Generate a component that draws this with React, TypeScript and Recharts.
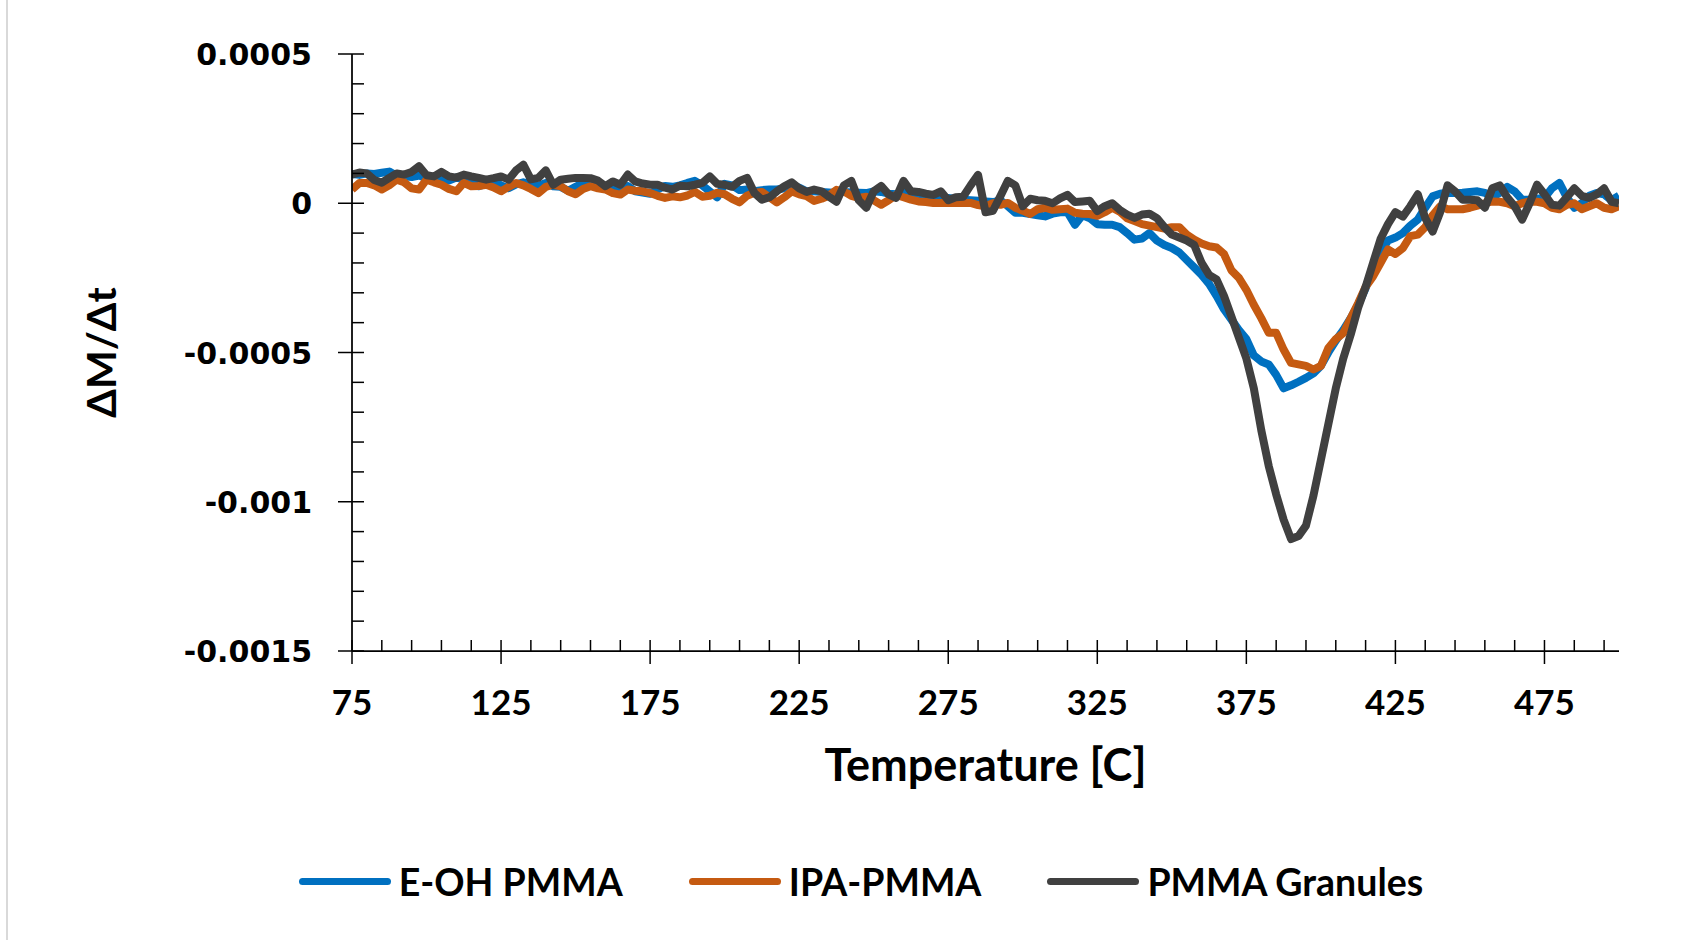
import React from 'react';
import { LineChart, Line, XAxis, YAxis, Legend } from 'recharts';

// temperature grid [C]
const temps = [
  75, 77.5, 80, 82.5, 85, 87.5, 90, 92.5, 95, 97.5,
  100, 102.5, 105, 107.5, 110, 112.5, 115, 117.5, 120, 122.5,
  125, 127.5, 130, 132.5, 135, 137.5, 140, 142.5, 145, 147.5,
  150, 152.5, 155, 157.5, 160, 162.5, 165, 167.5, 170, 172.5,
  175, 177.5, 180, 182.5, 185, 187.5, 190, 192.5, 195, 197.5,
  200, 202.5, 205, 207.5, 210, 212.5, 215, 217.5, 220, 222.5,
  225, 227.5, 230, 232.5, 235, 237.5, 240, 242.5, 245, 247.5,
  250, 252.5, 255, 257.5, 260, 262.5, 265, 267.5, 270, 272.5,
  275, 277.5, 280, 282.5, 285, 287.5, 290, 292.5, 295, 297.5,
  300, 302.5, 305, 307.5, 310, 312.5, 315, 317.5, 320, 322.5,
  325, 327.5, 330, 332.5, 335, 337.5, 340, 342.5, 345, 347.5,
  350, 352.5, 355, 357.5, 360, 362.5, 365, 367.5, 370, 372.5,
  375, 377.5, 380, 382.5, 385, 387.5, 390, 392.5, 395, 397.5,
  400, 402.5, 405, 407.5, 410, 412.5, 415, 417.5, 420, 422.5,
  425, 427.5, 430, 432.5, 435, 437.5, 440, 442.5, 445, 447.5,
  450, 452.5, 455, 457.5, 460, 462.5, 465, 467.5, 470, 472.5,
  475, 477.5, 480, 482.5, 485, 487.5, 490, 492.5, 495, 497.5,
  500,
];

// dM/dt values, in units of 1e-5
const eohPmma = [
  9.8, 9.5, 10.0, 9.8, 10.2, 10.6, 9.2, 9.0, 8.8, 9.3,
  8.4, 8.0, 8.3, 7.6, 8.6, 8.0, 7.8, 5.7, 6.5, 7.5,
  6.0, 5.0, 6.3, 7.0, 6.5, 5.8, 6.8, 5.7, 5.5, 4.2,
  5.5, 6.8, 6.4, 5.2, 5.7, 4.4, 5.0, 5.8, 4.0, 3.6,
  3.2, 4.6, 5.8, 5.5, 6.0, 6.8, 7.5, 6.0, 4.0, 2.0,
  6.5, 6.0, 4.4, 4.6, 4.0, 4.4, 4.6, 4.6, 5.0, 5.8,
  5.2, 4.0, 4.0, 3.8, 3.6, 3.4, 3.8, 3.6, 3.5, 3.4,
  4.0, 3.8, 3.2, 3.0, 3.5, 3.2, 2.8, 2.4, 2.2, 1.8,
  1.8, 1.4, 1.2, 1.0, 0.8, 0.6, 0.4, 1.0, -1.0, -3.2,
  -3.2, -3.6, -4.0, -4.4, -3.5, -3.0, -3.0, -7.2, -4.0, -5.0,
  -7.0, -7.2, -7.2, -8.0, -10.0, -12.2, -11.8, -10.0, -12.5, -14.0,
  -15.0, -16.5, -19.0, -21.5, -24.0, -27.0, -31.0, -35.5, -39.0, -42.5,
  -45.5, -51.0, -53.0, -54.0, -57.5, -62.0, -61.0, -59.8, -58.5, -57.0,
  -54.5, -50.0, -46.0, -42.5, -38.5, -34.0, -28.5, -21.0, -16.5, -12.5,
  -11.5, -10.0, -7.5, -5.5, -1.5, 2.3, 3.2, 3.5, 3.4, 3.5,
  3.8, 4.0, 3.5, 2.0, 3.5, 5.5, 4.0, 1.2, 1.2, 1.5,
  1.8, 5.0, 6.8, 2.0, -1.5, 0.0, 2.5, 3.4, 3.0, 1.0,
  2.5,
];

const ipaPmma = [
  4.6, 6.8, 6.8, 6.0, 4.6, 6.0, 7.9, 7.0, 5.0, 4.6,
  7.9, 7.0, 6.2, 4.8, 4.0, 6.8, 5.7, 5.8, 6.2, 5.3,
  4.0, 5.5, 6.8, 6.0, 4.8, 3.4, 5.5, 6.2, 5.7, 4.0,
  3.0, 4.8, 5.7, 5.0, 4.6, 3.4, 2.9, 4.6, 4.2, 4.0,
  3.4, 2.5, 1.8, 2.3, 2.0, 2.6, 3.8, 2.2, 2.5, 3.5,
  3.0, 1.5, 0.3, 2.5, 3.5, 3.8, 2.0, 0.3, 2.0, 4.0,
  3.0, 2.4, 0.8, 1.5, 2.6, 4.5, 4.0, 2.5, 1.8, 2.2,
  1.0, -0.5, 1.0, 2.8, 2.0, 1.2, 0.6, 0.4, 0.1, 0.1,
  0.1, 0.1, 0.1, 0.1, -0.6, -1.0, 0.0, -0.5, 0.1, -1.5,
  -2.5, -3.6, -2.0, -1.5, -2.2, -2.0, -1.8, -3.2, -3.5, -3.6,
  -4.2, -3.0, -1.5, -2.8, -5.0, -6.0, -7.0, -7.5, -8.0, -8.5,
  -8.0, -8.0, -10.5, -12.2, -13.5, -14.4, -14.8, -17.0, -22.5, -25.0,
  -29.0, -34.0, -38.5, -43.4, -43.4, -49.0, -53.5, -54.0, -54.5, -55.7,
  -54.5, -48.5, -45.5, -43.5, -38.5, -33.5, -28.0, -24.5, -20.0, -15.5,
  -17.0, -15.0, -11.0, -10.5, -8.0, -4.0, -1.0, -2.0, -2.0, -2.0,
  -1.5, -0.8, 0.0, 0.6, 0.5, 0.0, -1.0, 0.0, 0.6, 0.5,
  0.0, -1.5, -2.0, -0.5, 0.0, -2.0, -1.0, 0.0, -1.5, -2.0,
  -1.0,
];

const pmmaGranules = [
  9.6, 10.3, 10.0, 7.8, 6.9, 8.5, 10.0, 9.6, 10.5, 12.4,
  9.4, 9.0, 10.5, 9.0, 8.6, 9.6, 9.0, 8.5, 7.9, 8.4,
  9.0, 7.9, 11.0, 12.9, 8.0, 8.5, 11.0, 6.2, 7.9, 8.2,
  8.5, 8.5, 8.4, 7.6, 5.7, 7.3, 6.2, 9.6, 7.3, 6.6,
  6.2, 6.2, 5.2, 4.6, 5.9, 5.7, 6.2, 6.8, 9.0, 6.5,
  6.2, 5.5, 7.5, 8.5, 3.4, 1.2, 2.0, 4.0, 5.7, 7.0,
  5.0, 3.8, 4.6, 4.0, 2.2, 0.5, 6.0, 7.5, 1.0, -1.5,
  4.0, 5.8, 3.0, 1.8, 7.5, 4.0, 3.8, 3.2, 2.8, 4.0,
  1.0, 2.0, 2.2, 6.0, 9.5, -3.0, -2.5, 2.4, 7.5, 6.0,
  -1.0, 1.5, 1.0, 0.8, 0.0, 1.6, 2.8, 0.4, 0.6, 0.8,
  -2.6, -1.0, 0.0, -2.2, -3.8, -4.9, -3.8, -3.5, -5.0, -8.0,
  -10.5, -11.5, -12.5, -14.0, -20.0, -24.0, -25.5, -31.0, -38.0, -45.0,
  -52.0, -62.0, -76.0, -88.0, -97.5, -106.0, -112.5, -111.5, -108.0, -98.0,
  -86.0, -74.0, -62.0, -52.0, -44.0, -35.0, -28.0, -20.0, -12.0, -7.0,
  -3.0, -4.5, -1.0, 3.0, -5.0, -9.5, -3.0, 6.0, 4.0, 1.2,
  1.2, 1.0, -1.5, 5.0, 6.0, 2.0, -1.0, -5.5, 0.0, 6.2,
  3.0, -0.5, -0.8, 2.0, 5.0, 2.5, 1.8, 3.0, 5.0, 0.5,
  0.0,
];

const xMajor = [75, 125, 175, 225, 275, 325, 375, 425, 475];
const xTicks = [
  75, 85, 95, 105, 115, 125, 135, 145, 155, 165,
  175, 185, 195, 205, 215, 225, 235, 245, 255, 265,
  275, 285, 295, 305, 315, 325, 335, 345, 355, 365,
  375, 385, 395, 405, 415, 425, 435, 445, 455, 465,
  475, 485, 495,
];

const yMajor = [50, 0, -50, -100, -150];
const yMajorLabels = ['0.0005', '0', '-0.0005', '-0.001', '-0.0015'];
const yTicks = [
  50, 40, 30, 20, 10, 0, -10, -20, -30, -40, -50,
  -60, -70, -80, -90, -100, -110, -120, -130, -140, -150,
];

const data = temps.map((t, i) => ({
  t,
  eoh: eohPmma[i],
  ipa: ipaPmma[i],
  granules: pmmaGranules[i],
}));

const LINE_WIDTH = 8;

const XTick = ({ x, y, payload }: any) => {
  const major = xMajor.includes(payload.value);
  return (
    <g>
      <line x1={x} x2={x} y1={y - 11} y2={major ? y + 13 : y} stroke="#000" strokeWidth={1.5} />
      {major && (
        <text
          x={x}
          y={y + 64}
          textAnchor="middle"
          fill="#000"
          style={{ fontFamily: 'Lato', fontWeight: 700, fontSize: 35 }}
        >
          {payload.value}
        </text>
      )}
    </g>
  );
};

const YTick = ({ x, y, payload }: any) => {
  const idx = yMajor.indexOf(payload.value);
  const major = idx >= 0;
  return (
    <g>
      <line x1={major ? x - 14 : x} x2={x + 12} y1={y} y2={y} stroke="#000" strokeWidth={1.5} />
      {major && (
        <text
          x={x - 40}
          y={y + 11}
          textAnchor="end"
          fill="#000"
          style={{ fontFamily: 'DejaVu Sans', fontWeight: 700, fontSize: 30 }}
        >
          {yMajorLabels[idx]}
        </text>
      )}
    </g>
  );
};

const renderLegend = (props: any) => {
  const { payload } = props;
  return (
    <div
      style={{
        display: 'flex',
        justifyContent: 'center',
        gap: 66,
        fontFamily: 'Lato',
        fontWeight: 700,
        fontSize: 37.5,
        color: '#000',
        paddingLeft: 15,
      }}
    >
      {payload.map((entry: any) => (
        <div key={entry.value} style={{ display: 'flex', alignItems: 'center' }}>
          <span
            style={{
              display: 'inline-block',
              width: 92,
              height: 7,
              borderRadius: 4,
              background: entry.color,
              marginRight: 8,
            }}
          />
          <span>{entry.value}</span>
        </div>
      ))}
    </div>
  );
};

const App: React.FC = () => {
  return (
    <div style={{ position: 'absolute', left: 0, top: 0, width: 1707, height: 940, background: '#fff' }}>
      <div style={{ position: 'absolute', left: 6, top: 0, width: 2, height: 940, background: '#d9d9d9' }} />
      <LineChart width={1707} height={940} data={data} margin={{ top: 54, right: 88, bottom: 0, left: 0 }}>
        <XAxis
          dataKey="t"
          type="number"
          domain={[75, 500]}
          allowDataOverflow
          ticks={xTicks}
          interval={0}
          height={289}
          tickSize={0}
          tickMargin={0}
          tick={<XTick />}
          axisLine={{ stroke: '#000', strokeWidth: 1.75 }}
          label={{
            value: 'Temperature [C]',
            position: 'insideTop',
            offset: 98,
            fill: '#000',
            style: { fontFamily: 'Lato', fontWeight: 700, fontSize: 45 },
          }}
        />
        <YAxis
          type="number"
          domain={[-150, 50]}
          allowDataOverflow
          ticks={yTicks}
          interval={0}
          width={352}
          tickSize={0}
          tickMargin={0}
          tick={<YTick />}
          axisLine={{ stroke: '#000', strokeWidth: 1.75 }}
          label={{
            value: 'ΔM/Δt',
            angle: -90,
            position: 'insideLeft',
            offset: 101,
            fill: '#000',
            style: { fontFamily: 'Lato', fontWeight: 700, fontSize: 41, textAnchor: 'middle' },
          }}
        />
        <Legend
          verticalAlign="middle"
          align="center"
          content={renderLegend}
          wrapperStyle={{ left: 0, top: 859, width: 1707 }}
        />
        <Line
          name="E-OH PMMA"
          dataKey="eoh"
          type="linear"
          stroke="#0070C0"
          strokeWidth={LINE_WIDTH}
          strokeLinejoin="round"
          style={{ strokeWidth: LINE_WIDTH }}
          dot={false}
          isAnimationActive={false}
        />
        <Line
          name="IPA-PMMA"
          dataKey="ipa"
          type="linear"
          stroke="#C55A11"
          strokeWidth={LINE_WIDTH}
          strokeLinejoin="round"
          style={{ strokeWidth: LINE_WIDTH }}
          dot={false}
          isAnimationActive={false}
        />
        <Line
          name="PMMA Granules"
          dataKey="granules"
          type="linear"
          stroke="#404040"
          strokeWidth={LINE_WIDTH}
          strokeLinejoin="round"
          style={{ strokeWidth: LINE_WIDTH }}
          dot={false}
          isAnimationActive={false}
        />
      </LineChart>
    </div>
  );
};

export default App;
